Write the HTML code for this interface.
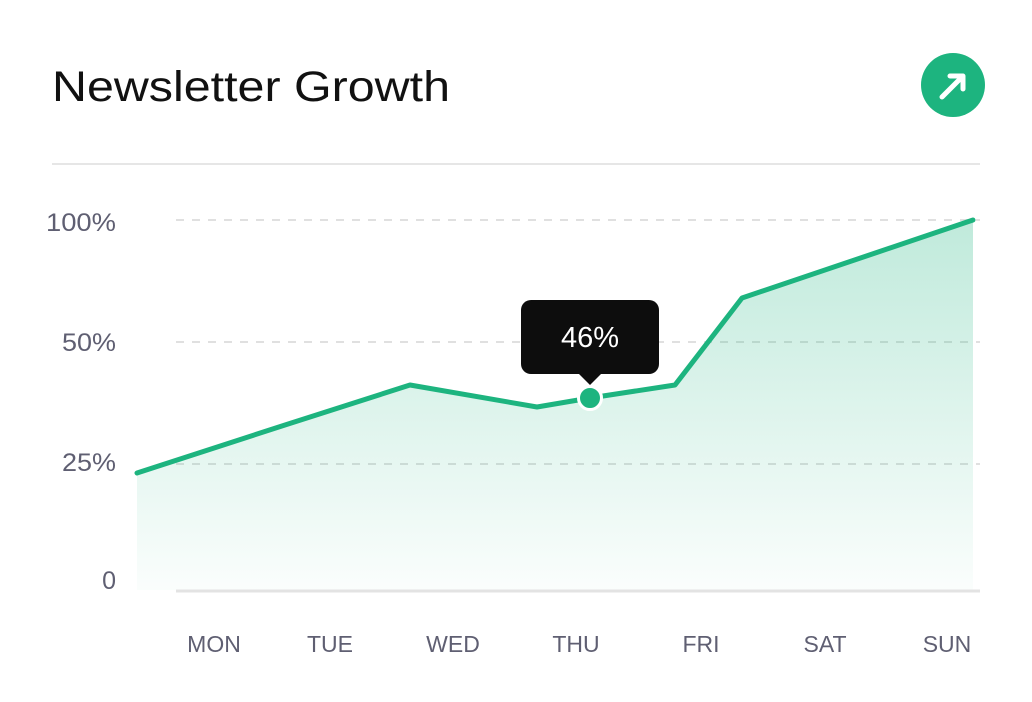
<!DOCTYPE html>
<html><head><meta charset="utf-8"><style>
html,body{margin:0;padding:0;background:#fff;width:1032px;height:702px;overflow:hidden}
svg{display:block}
</style></head><body>
<svg width="1032" height="702" viewBox="0 0 1032 702" font-family="Liberation Sans, sans-serif">
<defs>
<linearGradient id="g" x1="0" y1="0" x2="0" y2="1">
<stop offset="0" stop-color="#1db47f" stop-opacity="0.28"/>
<stop offset="1" stop-color="#1db47f" stop-opacity="0.02"/>
</linearGradient>
</defs>
<text x="52" y="101" font-size="43" fill="#111" textLength="398" lengthAdjust="spacingAndGlyphs">Newsletter Growth</text>
<circle cx="953" cy="85" r="32" fill="#1db47f"/>
<path d="M942 97 L962 77 M950 76 L963 76 L963 89" stroke="#fff" stroke-width="5" fill="none" stroke-linecap="round" stroke-linejoin="round"/>
<line x1="52" y1="164" x2="980" y2="164" stroke="#e6e6e6" stroke-width="2"/>
<g stroke="#e0e0e0" stroke-width="2" stroke-dasharray="8 8">
<line x1="176" y1="220" x2="980" y2="220"/>
<line x1="176" y1="342" x2="980" y2="342"/>
<line x1="176" y1="464" x2="980" y2="464"/>
</g>
<path d="M137 473 L285 425 L410 385 L537 407 L590 398 L675 385 L742 298 L973 220 L973 590 L137 590 Z" fill="url(#g)"/>
<line x1="176" y1="591" x2="980" y2="591" stroke="#e3e3e3" stroke-width="3"/>
<path d="M137 473 L285 425 L410 385 L537 407 L590 398 L675 385 L742 298 L973 220" fill="none" stroke="#1db47f" stroke-width="5" stroke-linejoin="round" stroke-linecap="round"/>
<g font-size="25" fill="#5f5f72" text-anchor="end">
<text x="116" y="231" textLength="70" lengthAdjust="spacingAndGlyphs">100%</text>
<text x="116" y="351" textLength="54" lengthAdjust="spacingAndGlyphs">50%</text>
<text x="116" y="471" textLength="54" lengthAdjust="spacingAndGlyphs">25%</text>
<text x="116" y="589">0</text>
</g>
<g font-size="23" fill="#5f5f72" text-anchor="middle">
<text x="214" y="652">MON</text>
<text x="330" y="652">TUE</text>
<text x="453" y="652">WED</text>
<text x="576" y="652">THU</text>
<text x="701" y="652">FRI</text>
<text x="825" y="652">SAT</text>
<text x="947" y="652">SUN</text>
</g>
<rect x="521" y="300" width="138" height="74" rx="10" fill="#0d0d0d"/>
<path d="M578 373 L590 385 L602 373 Z" fill="#0d0d0d"/>
<text x="590" y="347" font-size="29" fill="#fff" text-anchor="middle">46%</text>
<circle cx="590" cy="398" r="11.5" fill="#1db47f" stroke="#fff" stroke-width="3"/>
</svg>
</body></html>
